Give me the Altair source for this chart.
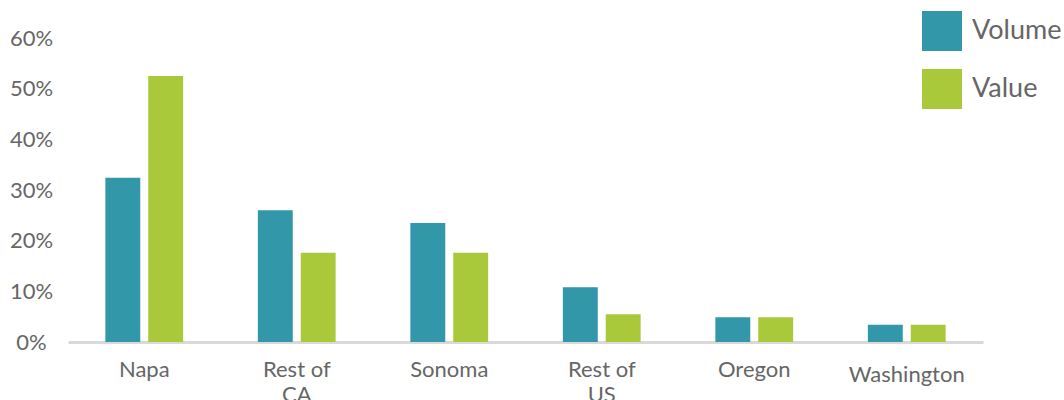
import altair as alt
import pandas as pd

regions = ["Napa", "Rest of CA", "Sonoma", "Rest of US", "Oregon", "Washington"]
volume = [0.324, 0.26, 0.235, 0.108, 0.049, 0.034]
value = [0.525, 0.176, 0.176, 0.055, 0.049, 0.034]
series = ["Volume", "Value"]
colors = ["#3197a9", "#a9c93b"]

rows = []
for r, vo, va in zip(regions, volume, value):
    rows.append({"region": r, "series": "Volume", "share": vo})
    rows.append({"region": r, "series": "Value", "share": va})
df = pd.DataFrame(rows)

font = "Lato"
text_color = "#666666"

chart = alt.Chart(df).mark_bar().encode(
    x=alt.X(
        "region:N",
        sort=regions,
        title=None,
        scale=alt.Scale(paddingInner=0.49, paddingOuter=0.245),
        axis=alt.Axis(
            labelAngle=0,
            labelFont=font,
            labelFontSize=22,
            labelColor=text_color,
            labelPadding={"condition": {"test": "datum.label == 'Washington'", "value": 22}, "value": 17},
            labelLineHeight=25,
            labelExpr="indexof(datum.label, 'Rest of') == 0 ? ['Rest of', substring(datum.label, 8)] : datum.label",
            ticks=False,
            domainColor="#d9d9d9",
            domainWidth=3,
        ),
    ),
    xOffset=alt.XOffset(
        "series:N",
        sort=series,
        scale=alt.Scale(paddingInner=0.186, paddingOuter=0),
    ),
    y=alt.Y(
        "share:Q",
        title=None,
        scale=alt.Scale(domain=[0, 0.6], nice=False),
        axis=alt.Axis(
            values=[0, 0.1, 0.2, 0.3, 0.4, 0.5, 0.6],
            format=".0%",
            grid=False,
            domain=False,
            ticks=False,
            tickSize=0,
            labelAlign="center",
            labelPadding=37,
            labelFont=font,
            labelFontSize=22,
            labelColor=text_color,
        ),
    ),
    color=alt.Color(
        "series:N",
        sort=series,
        scale=alt.Scale(domain=series, range=colors),
        legend=alt.Legend(
            title=None,
            orient="none",
            legendX=854,
            legendY=-27,
            symbolType="square",
            symbolSize=1600,
            symbolStrokeWidth=0,
            symbolOpacity=1,
            labelFont=font,
            labelFontSize=27,
            labelColor=text_color,
            labelOffset=10,
            rowPadding=18,
        ),
    ),
).properties(
    width=915,
    height=304,
    autosize=alt.AutoSizeParams(type="none"),
    padding={"left": 68, "top": 38, "right": 81, "bottom": 58},
).configure(background="white").configure_view(strokeWidth=0, stroke="transparent")

chart.save("out.html", embed_options={"renderer": "svg", "actions": False})
